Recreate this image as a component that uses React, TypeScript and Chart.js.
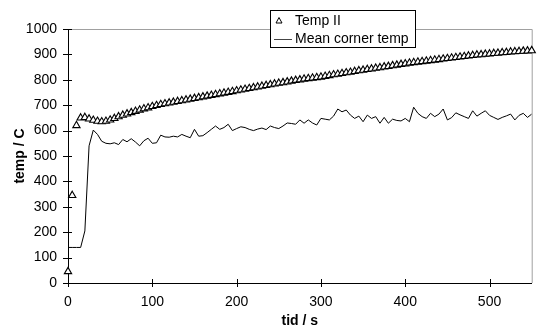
import React, { useEffect, useRef } from "react";
import { Chart, registerables } from "chart.js";

Chart.register(...registerables);

const FONT = "'Liberation Sans', Arial, Helvetica, sans-serif";

// time (s)
const tidS = [
  0, 5, 10, 15, 20, 25, 30, 35, 40, 45,
  50, 55, 60, 65, 70, 75, 80, 85, 90, 95,
  100, 105, 110, 115, 120, 125, 130, 135, 140, 145,
  150, 155, 160, 165, 170, 175, 180, 185, 190, 195,
  200, 205, 210, 215, 220, 225, 230, 235, 240, 245,
  250, 255, 260, 265, 270, 275, 280, 285, 290, 295,
  300, 305, 310, 315, 320, 325, 330, 335, 340, 345,
  350, 355, 360, 365, 370, 375, 380, 385, 390, 395,
  400, 405, 410, 415, 420, 425, 430, 435, 440, 445,
  450, 455, 460, 465, 470, 475, 480, 485, 490, 495,
  500, 505, 510, 515, 520, 525, 530, 535, 540, 545,
  550,
];

// Temp II (C)
const tempII = [
  45, 345, 620, 650, 652, 646, 641, 637, 635, 637,
  642, 648, 655, 661, 666, 671, 676, 681, 686, 690,
  695, 699, 703, 706, 709, 712, 715, 718, 721, 724,
  727, 730, 733, 736, 739, 742, 745, 748, 751, 754,
  757, 760, 763, 766, 769, 772, 775, 778, 781, 784,
  787, 789, 792, 795, 798, 800, 803, 805, 807, 809,
  811, 814, 817, 820, 822, 825, 828, 830, 833, 836,
  838, 841, 843, 846, 848, 851, 853, 856, 858, 861,
  863, 866, 868, 870, 872, 874, 876, 878, 880, 882,
  884, 886, 888, 890, 892, 894, 896, 898, 899, 901,
  902, 904, 905, 907, 908, 910, 911, 912, 913, 914,
  915,
];

// Mean corner temp (C)
const meanCornerTemp = [
  140, 140, 140, 140, 205, 540, 602, 585, 558, 550,
  548, 552, 545, 565, 556, 568, 555, 540, 560, 570,
  550, 552, 582, 575, 574, 578, 575, 585, 578, 572,
  605, 578, 580, 592, 605, 618, 605, 612, 625, 600,
  608, 615, 612, 605, 600, 606, 610, 604, 618, 612,
  608, 618, 630, 628, 625, 642, 629, 642, 630, 622,
  648, 645, 642, 657, 685, 674, 681, 661, 648, 657,
  635, 661, 648, 655, 629, 652, 629, 645, 640, 638,
  648, 635, 692, 668, 655, 648, 668, 655, 665, 685,
  642, 651, 670, 662, 655, 648, 678, 657, 668, 678,
  660, 652, 644, 652, 658, 665, 642, 660, 668, 652,
  665,
];

const seriesLabels = ["Temp II", "Mean corner temp"];
const xTitle = "tid / s";
const yTitle = "temp / C";

const frameAndTicks = {
  id: "frameAndTicks",
  beforeDatasetsDraw(chart: any) {
    const { ctx, chartArea } = chart;
    ctx.save();
    ctx.strokeStyle = "#a0a0a0";
    ctx.lineWidth = 1;
    ctx.beginPath();
    ctx.moveTo(chartArea.left, chartArea.top + 0.5);
    ctx.lineTo(chartArea.right + 0.5, chartArea.top + 0.5);
    ctx.lineTo(chartArea.right + 0.5, chartArea.bottom);
    ctx.stroke();
    ctx.restore();
  },
  afterDraw(chart: any) {
    const { ctx, chartArea } = chart;
    const xs = chart.scales.x;
    const ys = chart.scales.y;
    ctx.save();
    ctx.strokeStyle = "#000";
    ctx.lineWidth = 1;
    ctx.beginPath();
    xs.ticks.forEach((t: any) => {
      const px = Math.round(xs.getPixelForValue(t.value)) + 0.5;
      ctx.moveTo(px, chartArea.bottom - 4);
      ctx.lineTo(px, chartArea.bottom + 4);
    });
    ys.ticks.forEach((t: any) => {
      const py = Math.round(ys.getPixelForValue(t.value)) + 0.5;
      ctx.moveTo(chartArea.left - 5, py);
      ctx.lineTo(chartArea.left + 4, py);
    });
    ctx.stroke();

    // legend
    const bx = 270.5, by = 10.5, bw = 145, bh = 37;
    ctx.fillStyle = "#fff";
    ctx.fillRect(bx, by, bw, bh);
    ctx.strokeStyle = "#000";
    ctx.strokeRect(bx, by, bw, bh);
    // triangle marker
    ctx.beginPath();
    ctx.moveTo(279, 17.5);
    ctx.lineTo(282, 23);
    ctx.lineTo(276, 23);
    ctx.closePath();
    ctx.stroke();
    // line sample
    ctx.strokeStyle = "#444";
    ctx.beginPath();
    ctx.moveTo(274, 39.5);
    ctx.lineTo(292, 39.5);
    ctx.stroke();
    ctx.fillStyle = "#000";
    ctx.font = `14px ${FONT}`;
    ctx.textBaseline = "middle";
    ctx.textAlign = "left";
    ctx.fillText(chart.data.datasets[0].label, 295, 21);
    ctx.fillText(chart.data.datasets[1].label, 295, 39);
    ctx.restore();
  },
};

export default function App() {
  const ref = useRef<HTMLCanvasElement | null>(null);

  useEffect(() => {
    if (!ref.current) return;
    const chart = new Chart(ref.current, {
      type: "scatter",
      data: {
        datasets: [
          {
            label: seriesLabels[0],
            data: tidS.map((t, i) => ({ x: t, y: tempII[i] })),
            showLine: false,
            pointStyle: "triangle",
            pointRadius: 4.2,
            pointBorderWidth: 1.1,
            borderColor: "#000",
            backgroundColor: "#fff",
            pointBackgroundColor: "#fff",
            pointBorderColor: "#000",
            clip: false,
            order: 1,
          } as any,
          {
            label: seriesLabels[1],
            data: tidS.map((t, i) => ({ x: t, y: meanCornerTemp[i] })),
            showLine: true,
            pointRadius: 0,
            borderColor: "#000",
            borderWidth: 1,
            tension: 0,
            order: 2,
          } as any,
        ],
      },
      options: {
        animation: false,
        responsive: false,
        devicePixelRatio: 1,
        layout: { padding: { left: 0, right: 5, top: 29, bottom: 0 } },
        plugins: { legend: { display: false }, tooltip: { enabled: false } },
        scales: {
          x: {
            type: "linear",
            min: 0,
            max: 550,
            ticks: {
              stepSize: 100,
              includeBounds: false,
              color: "#000",
              font: { size: 14, family: FONT },
              padding: 11,
              maxRotation: 0,
              callback: (v: any) => String(v),
            },
            grid: { display: false, drawTicks: false },
            border: { display: true, color: "#000", width: 1 },
            title: {
              display: true,
              text: xTitle,
              color: "#000",
              font: { size: 14, weight: "bold", family: FONT, lineHeight: 1 },
              padding: { top: 0, bottom: 0 },
            },
            afterFit: (s: any) => {
              s.height = 45;
            },
          },
          y: {
            type: "linear",
            min: 0,
            max: 1000,
            ticks: {
              stepSize: 100,
              color: "#000",
              font: { size: 14, family: FONT },
              padding: 11,
              callback: (v: any) => String(v),
            },
            grid: { display: false, drawTicks: false },
            border: { display: true, color: "#000", width: 1 },
            title: {
              display: true,
              text: yTitle,
              color: "#000",
              font: { size: 14, weight: "bold", family: FONT, lineHeight: 1 },
              padding: { top: 13, bottom: 0 },
            },
            afterFit: (s: any) => {
              s.width = 68;
            },
          },
        },
      } as any,
      plugins: [frameAndTicks],
    });
    return () => chart.destroy();
  }, []);

  return (
    <div style={{ position: "fixed", left: 0, top: 0, width: 537, height: 328, background: "#fff" }}>
      <canvas ref={ref} width={537} height={328} style={{ display: "block" }} />
    </div>
  );
}
